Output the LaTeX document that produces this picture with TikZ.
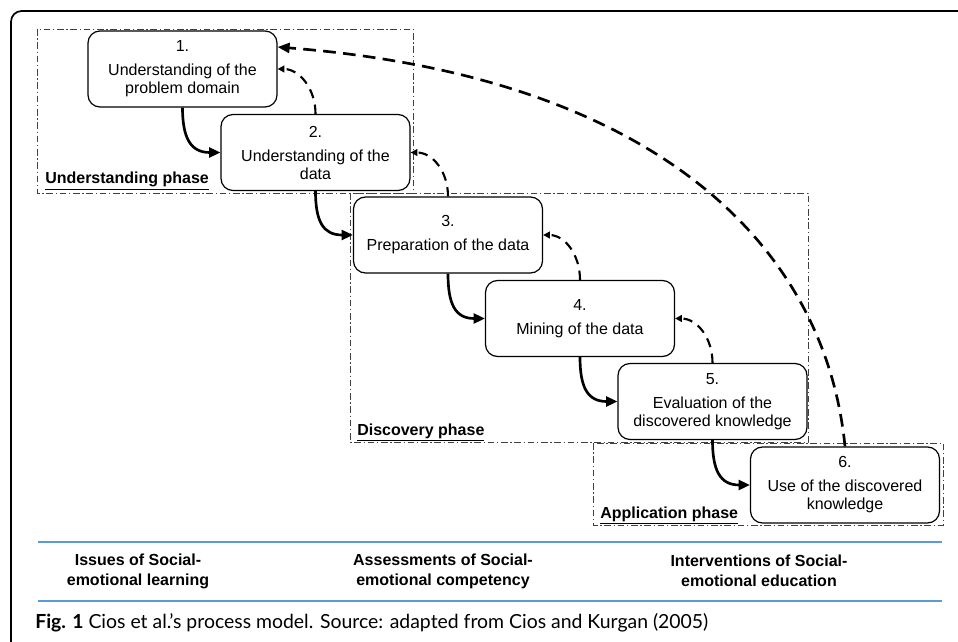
\documentclass[tikz,border=0pt]{standalone}
\usepackage{fontspec}
\usepackage{graphicx}
\setmainfont{Liberation Sans}
\newfontfamily\capfont{Lato}
\usetikzlibrary{arrows.meta,calc}
\definecolor{rulecol}{RGB}{91,155,213}
\begin{document}
\begin{tikzpicture}[x=0.75pt,y=-0.75pt,
  proc/.style={draw, rounded corners=9pt, line width=0.9pt, minimum width=141.75pt,
    minimum height=57pt, align=center, inner sep=0pt, font=\fontsize{12}{13.5}\selectfont},
  phase/.style={draw=black!75, line width=0.7pt, dash pattern=on 5pt off 2pt on 1pt off 2pt},
  phaselabel/.style={anchor=base west, inner sep=0pt, font=\fontsize{12}{14}\selectfont\bfseries},
  fwd/.style={line width=2pt, -{Triangle[length=8.5pt,width=7.5pt]}},
  back/.style={line width=1.6pt, dash pattern=on 7pt off 5pt, -{Triangle[length=5pt,width=5pt]}},
  bigback/.style={line width=2pt, dash pattern=on 9.5pt off 5.5pt, -{Triangle[length=9pt,width=7.5pt]}},
  colhead/.style={align=center, inner sep=0pt, font=\fontsize{12}{15}\selectfont\bfseries},
  bluerule/.style={draw=rulecol, line width=1.5pt},
]
\useasboundingbox (0,0) rectangle (958,642);
% outer frame
\draw[line width=1.3pt, rounded corners=8pt] (11,642) -- (11,11) -- (958,11);

% phase frames
\draw[phase] (37,29) rectangle (413,193);
\draw[phase] (350,193) rectangle (808,442);
\draw[phase] (593,443) rectangle (943,525);
\node[phaselabel] (lu) at (45,184) {\underline{Understanding phase}};
\node[phaselabel] (ld) at (357,435) {\underline{Discovery phase}};
\node[phaselabel] (la) at (600,518) {\underline{Application phase}};

% process boxes
\node[proc, fill=white] (b1) at (182.5,69) {1.\\[4.5pt]Understanding of the\\problem domain};
\node[proc, fill=white] (b2) at (315.5,152.5) {2.\\[4.5pt]Understanding of the\\data};
\node[proc, fill=white] (b3) at (448,235) {3.\\[4.5pt]Preparation of the data};
\node[proc, fill=white] (b4) at (580,318.5) {4.\\[4.5pt]Mining of the data};
\node[proc, fill=white] (b5) at (712.5,401.5) {5.\\[4.5pt]Evaluation of the\\discovered knowledge};
\node[proc, fill=white] (b6) at (845,485) {6.\\[4.5pt]Use of the discovered\\knowledge};

% forward arrows
\foreach \a/\b in {b1/b2,b2/b3,b3/b4,b4/b5,b5/b6}{
  \draw[fwd] (\a.south) .. controls +(0,30) and +(-30,0) .. (\b.west);
}
% backward arrows
\foreach \a/\b in {b2/b1,b3/b2,b4/b3,b5/b4}{
  \draw[back] (\a.north) .. controls +(0,-25) and +(22,0) .. (\b.east);
}
\coordinate (t1) at ($(b1.east)+(0,-22)$);
\draw[bigback] (b6.north) .. controls +(-20,-200) and +(380,30) .. (t1);

% bottom table
\draw[bluerule] (38,542) -- (942,542);
\draw[bluerule] (38,601) -- (942,601);
\node[colhead] (c1) at (138,571) {Issues of Social-\\emotional learning};
\node[colhead] (c2) at (443,571) {Assessments of Social-\\emotional competency};
\node[colhead] (c3) at (759,571) {Interventions of Social-\\emotional education};

% caption
\node[anchor=base west, inner sep=0pt] (cap) at (35,628)
  {\resizebox{504.75pt}{!}{\capfont\fontsize{13}{15}\selectfont\textbf{Fig. 1} Cios et al.’s process model. Source: adapted from Cios and Kurgan (2005)}};
\end{tikzpicture}
\end{document}
